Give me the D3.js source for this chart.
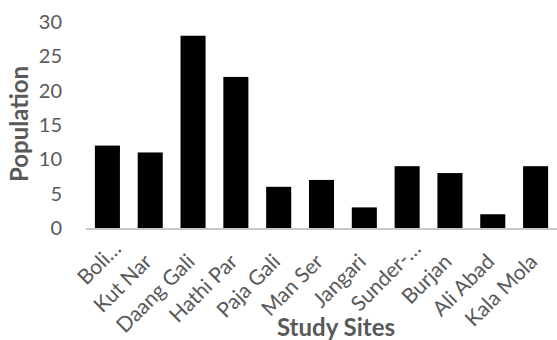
<!DOCTYPE html>
<html>
<head>
<meta charset="utf-8">
<script src="https://cdn.jsdelivr.net/npm/d3@7"></script>
<style>
  html, body { margin: 0; padding: 0; background: #fff; }
  svg { display: block; }
  text { font-family: Lato, "Open Sans", sans-serif; fill: #595959; }
</style>
</head>
<body>
<svg id="chart" width="557" height="340"></svg>
<script>
// Population counted at each study site
const sites = ["Boli…", "Kut Nar", "Daang Gali", "Hathi Par", "Paja Gali", "Man Ser",
               "Jangari", "Sunder-…", "Burjan", "Ali Abad", "Kala Mola"];
const population = [12, 11, 28, 22, 6, 7, 3, 9, 8, 2, 9];
const yTicks = [0, 5, 10, 15, 20, 25, 30];

const plot = { left: 86, right: 557, top: 22, bottom: 228 };

const svg = d3.select("#chart");

const x = d3.scaleBand()
  .domain(sites)
  .range([plot.left, plot.right])
  .paddingInner(0.415)
  .paddingOuter(0.2075);

const y = d3.scaleLinear()
  .domain([0, 30])
  .range([plot.bottom, plot.top]);

// bars
svg.append("g")
  .selectAll("rect")
  .data(sites.map((s, i) => ({ site: s, value: population[i] })))
  .join("rect")
  .attr("x", d => x(d.site))
  .attr("y", d => y(d.value))
  .attr("width", x.bandwidth())
  .attr("height", d => y(0) - y(d.value))
  .attr("fill", "#000");

// y axis: labels only
const yAxis = svg.append("g")
  .attr("transform", `translate(${plot.left - 24},0)`)
  .call(d3.axisLeft(y).tickValues(yTicks).tickSize(0).tickPadding(0));
yAxis.select(".domain").remove();
yAxis.selectAll("text")
  .attr("font-size", 20)
  .attr("font-family", "Lato, sans-serif")
  .attr("fill", "#595959");

// x axis: baseline and rotated site labels
const xAxis = svg.append("g")
  .attr("transform", `translate(0,${plot.bottom})`)
  .call(d3.axisBottom(x).tickSize(0).tickPadding(0));
xAxis.select(".domain")
  .attr("stroke", "#c8c8c8")
  .attr("stroke-width", 2)
  .attr("d", `M${plot.left},1H${plot.right}`);
xAxis.selectAll(".tick text")
  .attr("font-size", 21)
  .attr("font-family", "Lato, sans-serif")
  .attr("fill", "#595959")
  .attr("text-anchor", "end")
  .attr("dy", null)
  .attr("y", null)
  // shortened names sit a little further up the slope
  .attr("transform", d => d.endsWith("…")
    ? "translate(15,22) rotate(-45)"
    : "translate(3,35) rotate(-45)");

// axis titles
svg.append("text")
  .attr("transform", `translate(28,124) rotate(-90)`)
  .attr("text-anchor", "middle")
  .attr("font-size", 24)
  .attr("font-weight", "bold")
  .text("Population");

svg.append("text")
  .attr("x", 336)
  .attr("y", 336)
  .attr("text-anchor", "middle")
  .attr("font-size", 24)
  .attr("font-weight", "bold")
  .text("Study Sites");
</script>
</body>
</html>
